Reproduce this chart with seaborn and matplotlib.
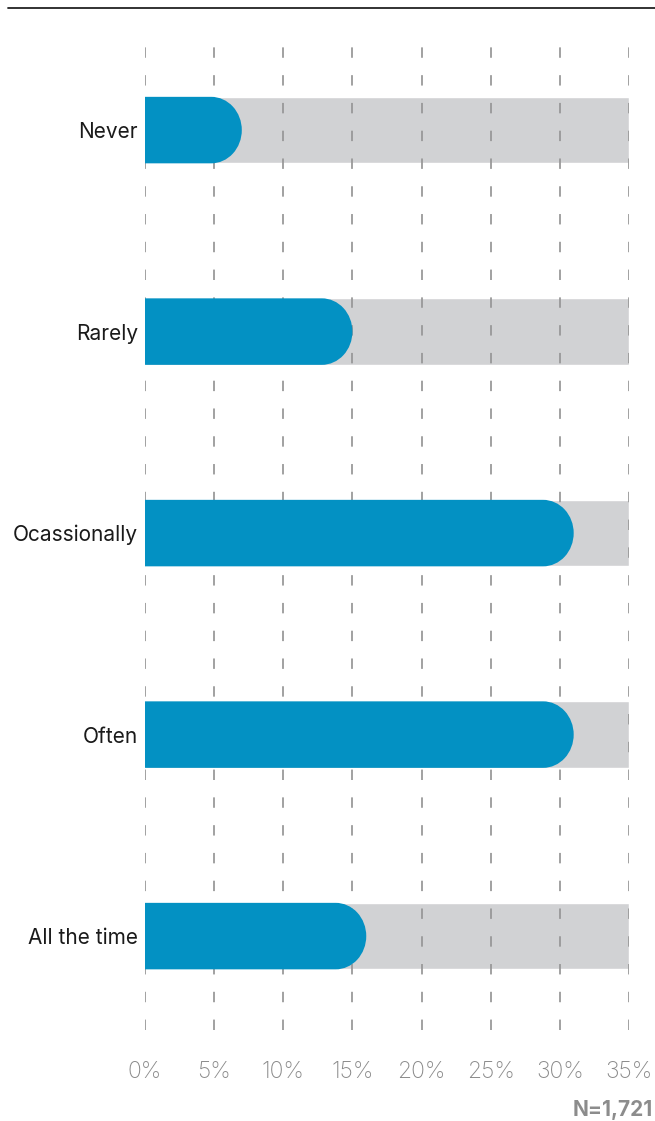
import numpy as np
import pandas as pd
import seaborn as sns
import matplotlib.pyplot as plt
from matplotlib.path import Path
from matplotlib.patches import PathPatch
from matplotlib.transforms import Affine2D

sns.set_theme(style="white")
plt.rcParams['font.family'] = ['Inter', 'DejaVu Sans']

categories = ['Never', 'Rarely', 'Ocassionally', 'Often', 'All the time']
values = [7, 15, 31, 31, 16]
ticks = [0, 5, 10, 15, 20, 25, 30, 35]
tick_labels = ['0%', '5%', '10%', '15%', '20%', '25%', '30%', '35%']
full_scale = 35

BLUE = '#0391C3'
GREY = '#D1D2D4'

df = pd.DataFrame({'answer': categories, 'share': values, 'track': [full_scale] * len(categories)})

fig = plt.figure(figsize=(6.55, 11.21), dpi=100)
ax = fig.add_axes([145 / 655, 91 / 1121, 484 / 655, 992 / 1121])

# grey background track
sns.barplot(data=df, x='track', y='answer', color=GREY, width=0.33, ax=ax,
            saturation=1, zorder=1)
n_track = len(ax.patches)

# blue bars, later swapped for a shape with a rounded right end
sns.barplot(data=df, x='share', y='answer', color=BLUE, width=0.33, ax=ax,
            saturation=1, zorder=3)

ax.set_xlim(0, full_scale)
ax.set_ylim(4.466, -0.457)

px_per_x = 484 / full_scale
px_per_y = 992 / (4.466 + 0.457)
for p in list(ax.patches[n_track:]):
    h = p.get_height()
    w = p.get_width()
    y0 = p.get_y()
    yc = y0 + h / 2
    rx = (h * px_per_y / 2 * 0.92) / px_per_x
    arc = Path.arc(-90, 90)
    arc_v = Affine2D().scale(rx, h / 2).translate(w - rx, yc).transform(arc.vertices)
    verts = np.vstack([[[0, y0]], arc_v, [[0, y0 + h]], [[0, y0]]])
    codes = ([Path.MOVETO, Path.LINETO] + list(arc.codes[1:]) +
             [Path.LINETO, Path.CLOSEPOLY])
    p.set_visible(False)
    ax.add_patch(PathPatch(Path(verts, codes), facecolor=BLUE, lw=0, zorder=3))

for t in ticks:
    ax.axvline(t, color='#969696', lw=1.25, ls=(0, (6, 10)), zorder=2)

for s in ax.spines.values():
    s.set_visible(False)

ax.set_xticks(ticks)
ax.set_xticklabels(tick_labels, fontsize=16.5, color='#8a8a8a', fontweight='light')
ax.tick_params(axis='x', length=0, pad=22)
ax.tick_params(axis='y', length=0, pad=5)
for lbl in ax.get_yticklabels():
    lbl.set_fontsize(15)
    lbl.set_color('#1a1a1a')
ax.set_xlabel('')
ax.set_ylabel('')

# top rule
fig.add_artist(plt.Line2D([8 / 655, 1], [1 - 8 / 1121] * 2, color='#222222', lw=1.3))

fig.text(653 / 655, 1 - 1110 / 1121, 'N=1,721', fontsize=15, color='#8c8c8c',
         fontweight='bold', ha='right', va='center')

fig.savefig('out.png', dpi=100)
